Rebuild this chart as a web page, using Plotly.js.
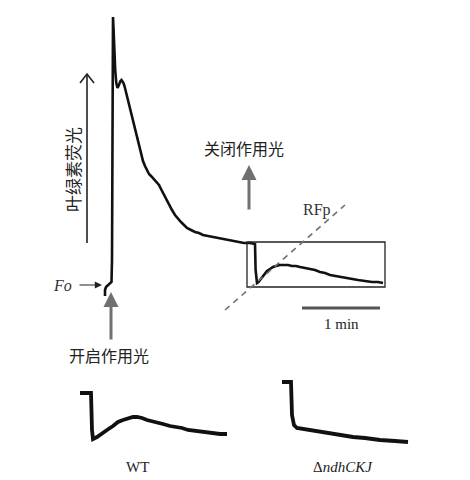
<!DOCTYPE html>
<html>
<head>
<meta charset="utf-8">
<script src="https://cdn.plot.ly/plotly-3.0.1.min.js"></script>
<style>
  html, body { margin: 0; padding: 0; background: #ffffff; }
  #chart { width: 470px; height: 480px; }
</style>
</head>
<body>
<div id="chart"></div>
<script>
// Chlorophyll fluorescence induction trace (schematic canvas units)
const inductionTime = [105,105,106,108,110,111.5,112,112.6,113,113.6,114.3,115.2,116.3,117.5,118.5,119.5,120.5,121.5,122.5,123.5,124.5,125.5,127,128.5,130,131.5,133,135,137,139,141,143,145,147,149,151,153,155,157,159,161,163,166,169,172,175,178,181,184,187,191,195,199,203,208,213,218,223,228,233,238,244,250,255,255.6,256.2,257,258.5,260,262,264,267,270,273,276,280,284,288,292,296,300,305,310,315,320,325,330,335,340,346,352,358,365,372,378,383];
const inductionSignal = [296,290,287,285,284,282,260,60,17,30,50,70,83,88,86,83,81,80,81,83,86,90,96,102,109,115,122,130,138,146,154,161,166,171,174,176,178,180,182,185,189,193,199,205,210,215,219,222,225,228,230,232,233,235,236,237,238,239,240,241,242,243,243,244,270,281,283,282,280,278,275,271,269,267,266,265,265,265,266,266,267,268,269,270,272,273,275,276,277,278,279,280,281,282,282,283];

// Post-illumination rise, wild type
const wtTime = [80,90,91,92,93,97,102,107,113,118,123,128,133,137,142,147,152,157,163,170,176,182,188,195,201,207,213,220,227];
const wtSignal = [393,393,393,430,439,437,434,430,426,422,420,418,417,417,418,420,421,422,424,426,427,428,430,431,432,432,433,434,434];

// Post-illumination rise, ndhCKJ deletion mutant
const mutTime = [282,290,291,292,294,297,303,310,320,330,340,353,365,380,395,408];
const mutSignal = [382,382,382,415,425,428,429,430,432,434,435,437,438,440,441,442];

const traceStyle = { type: 'scatter', mode: 'lines', hoverinfo: 'skip', showlegend: false };

const data = [
  Object.assign({ x: inductionTime, y: inductionSignal, line: { color: '#111', width: 2.6 } }, traceStyle),
  Object.assign({ x: wtTime, y: wtSignal, line: { color: '#111', width: 3.8 } }, traceStyle),
  Object.assign({ x: mutTime, y: mutSignal, line: { color: '#111', width: 3.8 } }, traceStyle)
];

const cjk = '"Noto Sans CJK SC", "Noto Sans", sans-serif';
const serif = '"Liberation Serif", "DejaVu Serif", serif';
const grey = '#707070';

const layout = {
  width: 470, height: 480,
  margin: { l: 0, r: 0, t: 0, b: 0 },
  paper_bgcolor: '#ffffff', plot_bgcolor: '#ffffff',
  xaxis: { range: [0, 470], visible: false, fixedrange: true },
  yaxis: { range: [480, 0], visible: false, fixedrange: true },
  shapes: [
    // zoom box around the dark relaxation
    { type: 'rect', xref: 'x', yref: 'y', x0: 247, x1: 385, y0: 242, y1: 287, line: { color: '#222', width: 1.3 } },
    // dashed guide through RFp
    { type: 'line', xref: 'x', yref: 'y', x0: 225, y0: 310, x1: 345, y1: 205, line: { color: grey, width: 1.6, dash: '6px,5px' } },
    // 1 min scale bar
    { type: 'line', xref: 'x', yref: 'y', x0: 302, x1: 380, y0: 308, y1: 308, line: { color: '#555', width: 3 } },
    // fluorescence axis arrow shaft and open head
    { type: 'line', xref: 'x', yref: 'y', x0: 87, x1: 87, y0: 243, y1: 74, line: { color: '#222', width: 1.6 } },
    { type: 'path', xref: 'x', yref: 'y', path: 'M 80,83 L 87,74 L 94,83', line: { color: '#222', width: 1.6 } }
  ],
  annotations: [
    { x: 72, y: 170, text: '叶绿素荧光', showarrow: false, textangle: -90, font: { family: cjk, size: 17, color: '#222' } },
    { x: 244, y: 148, text: '关闭作用光', showarrow: false, font: { family: cjk, size: 16, color: '#222' } },
    { x: 109, y: 355, text: '开启作用光', showarrow: false, font: { family: cjk, size: 16, color: '#222' } },
    { x: 317, y: 210, text: 'RFp', showarrow: false, font: { family: serif, size: 16, color: '#333' } },
    { x: 341, y: 324, text: '1 min', showarrow: false, font: { family: serif, size: 15, color: '#222' } },
    { x: 62, y: 285, text: '<i>Fo</i>', showarrow: false, font: { family: serif, size: 16, color: '#333' } },
    { x: 137, y: 467, text: 'WT', showarrow: false, font: { family: serif, size: 15, color: '#222' } },
    { x: 343, y: 467, text: 'Δ<i>ndhCKJ</i>', showarrow: false, font: { family: serif, size: 15, color: '#222' } },
    // Fo pointer
    { x: 102, y: 285, ax: 78, ay: 285, axref: 'x', ayref: 'y', xref: 'x', yref: 'y', text: '', showarrow: true,
      arrowhead: 2, arrowsize: 1.2, arrowwidth: 1.2, arrowcolor: '#222' },
    // actinic light on
    { x: 111, y: 292, ax: 111, ay: 341, axref: 'x', ayref: 'y', xref: 'x', yref: 'y', text: '', showarrow: true,
      arrowhead: 2, arrowsize: 1, arrowwidth: 3, arrowcolor: grey },
    // actinic light off
    { x: 249, y: 165, ax: 249, ay: 211, axref: 'x', ayref: 'y', xref: 'x', yref: 'y', text: '', showarrow: true,
      arrowhead: 2, arrowsize: 1, arrowwidth: 3, arrowcolor: grey }
  ]
};

Plotly.newPlot('chart', data, layout, { displayModeBar: false, staticPlot: true });
</script>
</body>
</html>
